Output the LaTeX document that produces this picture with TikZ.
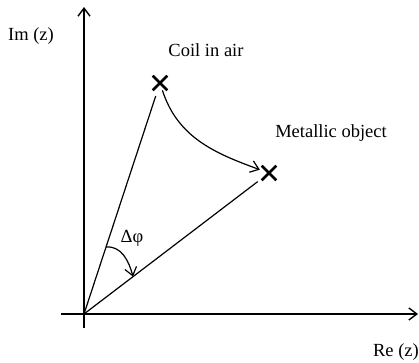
\documentclass[tikz,border=0pt]{standalone}
\usepackage{fontspec}
\setmainfont{Liberation Serif}
\usepackage{tikz}
\usetikzlibrary{arrows.meta, shapes.misc, calc}

\begin{document}
\begin{tikzpicture}[
        x=1pt, y=1pt,
        >={Straight Barb[length=8pt, width=12pt]},
        every node/.style={font=\fontsize{18.5}{22}\selectfont},
        axis/.style={->, line width=1.4pt},
        ray/.style={line width=1.2pt},
        crossmark/.style={draw, cross out, line width=2.6pt, minimum size=12pt, inner sep=0pt}
    ]
        \useasboundingbox (0,0) rectangle (419,362);

        % Nodes
        \coordinate (o) at (84,48);
        \coordinate (xl) at (61,48);
        \coordinate (xr) at (418,48);
        \coordinate (yb) at (84,34);
        \coordinate (yt) at (84,355);
        \node (coil) [crossmark] at (160,279) {};
        \node (metal) [crossmark] at (269,189) {};
        \node (im) at (31,326) {Im (z)};
        \node (re) at (396,10) {Re (z)};
        \node (coillbl) at (206,312) {Coil in air};
        \node (metallbl) at (331,229) {Metallic object};
        \node (dphi) at (132,124) {Δφ};
        \coordinate (a1) at ($(o)!0.29!(coil)$);
        \coordinate (a2) at ($(o)!0.265!(metal)$);

        % Arrows
        \draw [axis] (xl) -- (xr);
        \draw [axis] (yb) -- (yt);
        \draw [ray, shorten >=6pt] (o) -- (coil);
        \draw [ray, shorten >=5pt] (o) -- (metal);
        \draw [->, ray, shorten >=2pt] (coil) to[out=-72, in=160] (metal);
        \draw [->, ray] (a1) to[out=5, in=105] (a2);
    \end{tikzpicture}
\end{document}
